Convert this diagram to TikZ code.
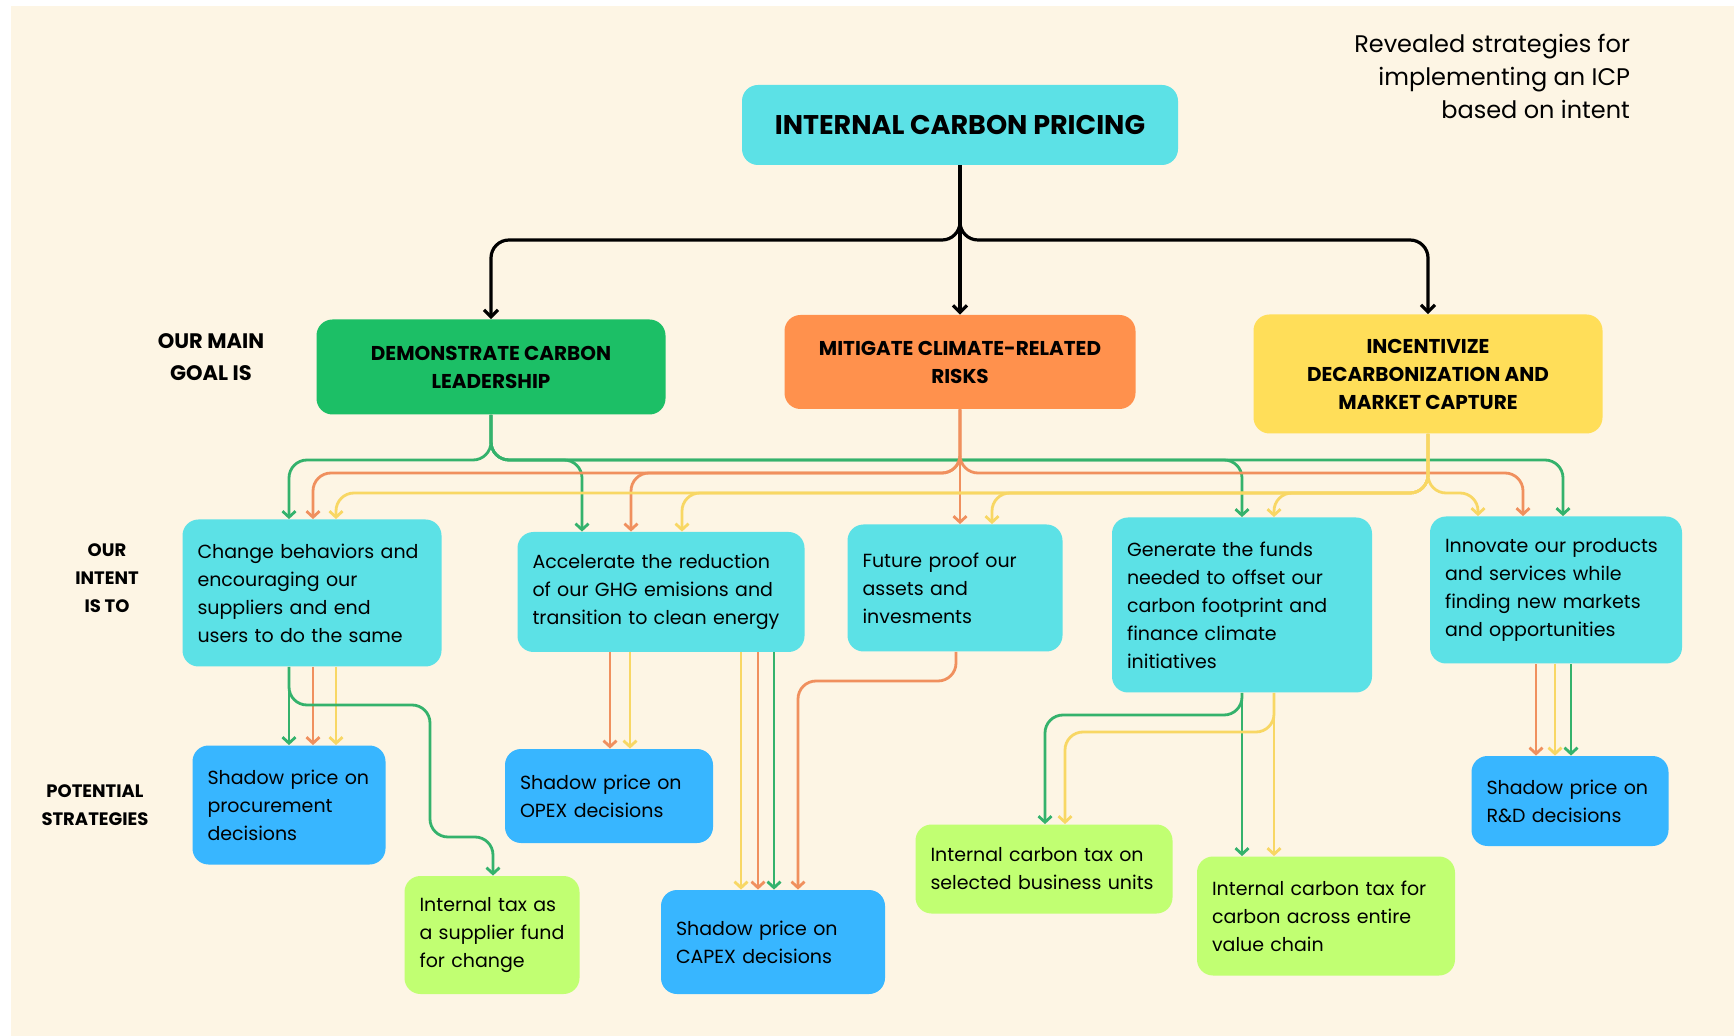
\documentclass[tikz,border=0pt]{standalone}
\usepackage{fontspec}
\setmainfont{Poppins}
\usetikzlibrary{arrows.meta}

\definecolor{paper}{HTML}{FDF5E4}
\definecolor{icpcyan}{HTML}{5CE1E6}
\definecolor{stratblue}{HTML}{38B6FF}
\definecolor{taxlime}{HTML}{C1FF72}
\definecolor{goalgreen}{HTML}{1CBF66}
\definecolor{goalorange}{HTML}{FF914D}
\definecolor{goalyellow}{HTML}{FFDE59}
\definecolor{wiregreen}{HTML}{34B26C}
\definecolor{wireorange}{HTML}{F0905E}
\definecolor{wireyellow}{HTML}{F8D764}

\begin{document}
\begin{tikzpicture}[x=0.5pt, y=-0.5pt,
    box/.style={rounded corners=8pt, inner xsep=7.5pt, align=left,
                font=\fontsize{9.5}{14}\selectfont},
    intent/.style={box, fill=icpcyan},
    shadow/.style={box, fill=stratblue},
    tax/.style={box, fill=taxlime},
    goal/.style={rounded corners=8pt, align=center,
                 font=\fontsize{10}{14}\selectfont\bfseries},
    lbl/.style={align=center, font=\fontsize{9}{14}\selectfont\bfseries},
    trunk/.style={line width=1.6pt, rounded corners=9pt,
                  -{Straight Barb[length=3.5pt,width=7pt]}},
    wire/.style={line width=1.4pt, rounded corners=9pt,
                 -{Straight Barb[length=3pt,width=6.5pt]}}]

  \useasboundingbox (0,0) rectangle (1734,1036);
  \fill[white] (0,0) rectangle (1734,1036);
  \fill[paper] (11,6) rectangle (1734,1036);

  % title and note
  \node[goal, fill=icpcyan, minimum width=218pt, minimum height=40pt,
        font=\fontsize{13.5}{16}\selectfont\bfseries] (icp) at (960,125) {INTERNAL CARBON PRICING};
  \node[align=right, anchor=east, font=\fontsize{12}{16.5}\selectfont] (note) at (1637,76)
    {Revealed strategies for\\implementing an ICP\\based on intent};

  % row labels
  \node[lbl, font=\fontsize{10.5}{16}\selectfont\bfseries] (goallbl) at (211,357) {OUR MAIN\\GOAL IS};
  \node[lbl] (intentlbl) at (107,578) {OUR\\INTENT\\IS TO};
  \node[lbl] (stratlbl) at (95,805) {POTENTIAL\\STRATEGIES};

  % goals
  \node[goal, fill=goalgreen, minimum width=174.5pt, minimum height=47.5pt] (goal1) at (491,367)
    {DEMONSTRATE CARBON\\LEADERSHIP};
  \node[goal, fill=goalorange, minimum width=175.5pt, minimum height=47pt] (goal2) at (960,362)
    {MITIGATE CLIMATE-RELATED\\RISKS};
  \node[goal, fill=goalyellow, minimum width=174.5pt, minimum height=59.5pt] (goal3) at (1428,374)
    {INCENTIVIZE\\DECARBONIZATION AND\\MARKET CAPTURE};

  % intents
  \node[intent, text width=114.5pt, minimum height=73.5pt] (int1) at (312,593)
    {Change behaviors and\\encouraging our\\suppliers and end\\users to do the same};
  \node[intent, text width=128.5pt, minimum height=60pt] (int2) at (661,592)
    {Accelerate the reduction\\of our GHG emisions and\\transition to clean energy};
  \node[intent, text width=92.5pt, minimum height=63.5pt] (int3) at (955,588)
    {Future proof our\\assets and\\invesments};
  \node[intent, text width=115pt, minimum height=87.5pt] (int4) at (1242,605)
    {Generate the funds\\needed to offset our\\carbon footprint and\\finance climate\\initiatives};
  \node[intent, text width=111pt, minimum height=73.5pt] (int5) at (1556,590)
    {Innovate our products\\and services while\\finding new markets\\and opportunities};

  % strategies
  \node[shadow, text width=81.5pt, minimum height=59.5pt] (s1) at (289,805)
    {Shadow price on\\procurement\\decisions};
  \node[tax, text width=72.5pt, minimum height=59pt] (s2) at (492,935)
    {Internal tax as\\a supplier fund\\for change};
  \node[shadow, text width=89pt, minimum height=47pt] (s3) at (609,796)
    {Shadow price on\\OPEX decisions};
  \node[shadow, text width=97pt, minimum height=52pt] (s4) at (773,942)
    {Shadow price on\\CAPEX decisions};
  \node[tax, text width=113.5pt, minimum height=44.5pt] (s5) at (1044,869)
    {Internal carbon tax on\\selected business units};
  \node[tax, text width=114pt, minimum height=59.5pt] (s6) at (1326,916)
    {Internal carbon tax for\\carbon across entire\\value chain};
  \node[shadow, text width=83.5pt, minimum height=45pt] (s7) at (1570,801)
    {Shadow price on\\R\&D decisions};

  % pricing -> goals
  \draw[trunk] (icp.south) -- (icp.south |- 0,240) -- (goal1.north |- 0,240) -- (goal1.north);
  \draw[trunk] (icp.south) -- (goal2.north);
  \draw[trunk] (icp.south) -- (icp.south |- 0,240) -- (goal3.north |- 0,240) -- (goal3.north);

  % goals -> intents
  \foreach \xx/\target in {289/int1, 582/int2, 1242/int4, 1563/int5}
    \draw[wire, wiregreen] (goal1.south) -- (goal1.south |- 0,460) -- (\xx,460) -- (\target.north -| \xx,0);
  \foreach \xx/\target in {313/int1, 631/int2, 1523/int5}
    \draw[wire, wireorange] (goal2.south) -- (goal2.south |- 0,473) -- (\xx,473) -- (\target.north -| \xx,0);
  \draw[wire, wireorange] (goal2.south) -- (int3.north -| goal2.south);
  \foreach \xx/\target in {336/int1, 682/int2, 992/int3, 1274/int4, 1478/int5}
    \draw[wire, wireyellow] (goal3.south) -- (goal3.south |- 0,493) -- (\xx,493) -- (\target.north -| \xx,0);

  % intents -> strategies
  \foreach \xx/\col in {289/wiregreen, 313/wireorange, 336/wireyellow}
    \draw[wire, \col] (int1.south -| \xx,0) -- (s1.north -| \xx,0);
  \draw[wire, wiregreen] (int1.south -| 289,0) -- (289,705) -- (430,705) -- (430,837) -- (493,837) -- (s2.north -| 493,0);
  \foreach \xx/\col in {610/wireorange, 630/wireyellow}
    \draw[wire, \col] (int2.south -| \xx,0) -- (s3.north -| \xx,0);
  \foreach \xx/\col in {741/wireyellow, 758/wireorange, 774/wiregreen}
    \draw[wire, \col] (int2.south -| \xx,0) -- (s4.north -| \xx,0);
  \draw[wire, wireorange] (int3.south -| 956,0) -- (956,681) -- (798,681) -- (s4.north -| 798,0);
  \foreach \xx/\col in {1242/wiregreen, 1274/wireyellow}
    \draw[wire, \col] (int4.south -| \xx,0) -- (s6.north -| \xx,0);
  \draw[wire, wiregreen] (int4.south) -- (1242,715) -- (1045,715) -- (s5.north -| 1045,0);
  \draw[wire, wireyellow] (int4.south -| 1274,0) -- (1274,732) -- (1065,732) -- (s5.north -| 1065,0);
  \foreach \xx/\col in {1536/wireorange, 1555/wireyellow, 1571/wiregreen}
    \draw[wire, \col] (int5.south -| \xx,0) -- (s7.north -| \xx,0);

\end{tikzpicture}
\end{document}
